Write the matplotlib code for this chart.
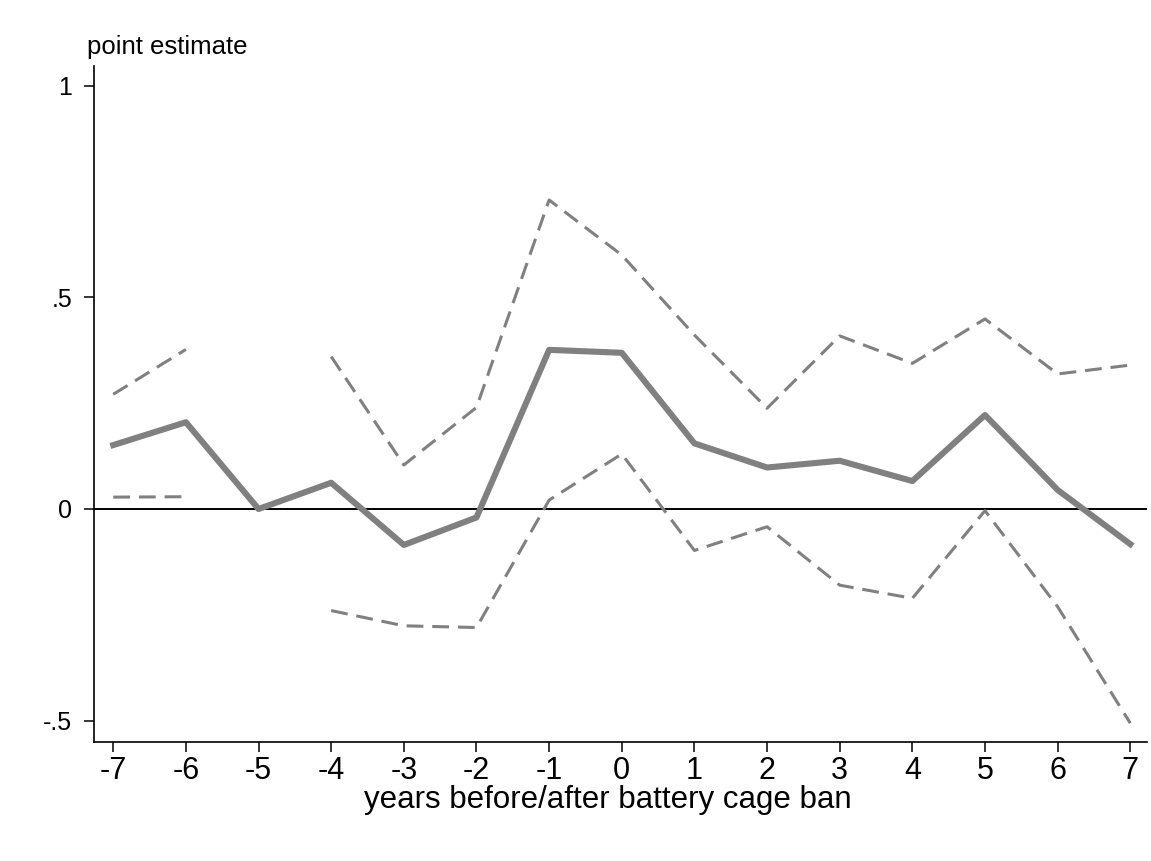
import numpy as np
import matplotlib
matplotlib.use("Agg")
import matplotlib.pyplot as plt

plt.rcParams['font.family'] = ['Liberation Sans', 'DejaVu Sans']

# event-study estimates, years relative to the battery cage ban
years = [-7, -6, -5, -4, -3, -2, -1, 0, 1, 2, 3, 4, 5, 6, 7]
estimate = [0.151, 0.205, 0.0, 0.062, -0.085, -0.020, 0.376, 0.369,
            0.155, 0.098, 0.114, 0.066, 0.222, 0.045, -0.083]
# confidence bounds; the reference year (-5) has none
upper = [0.271, 0.377, np.nan, 0.360, 0.104, 0.240, 0.730, 0.600,
         0.411, 0.238, 0.409, 0.344, 0.449, 0.319, 0.340]
lower = [0.028, 0.029, np.nan, -0.240, -0.276, -0.280, 0.021, 0.130,
         -0.098, -0.042, -0.180, -0.211, -0.004, -0.231, -0.506]

ytick_vals = [-0.5, 0, 0.5, 1]
ytick_text = ['-.5', '0', '.5', '1']

grey = '#808080'

fig = plt.figure(figsize=(11.51, 8.61), dpi=100)
ax = fig.add_axes([94 / 1151, 1 - 742.3 / 861, (1147 - 94) / 1151, (742.3 - 66) / 861])

ax.axhline(0, color='black', lw=1.4, zorder=1)
ax.plot(years, upper, color=grey, lw=2.2, dashes=(5.5, 2.9), zorder=2)
ax.plot(years, lower, color=grey, lw=2.2, dashes=(5.5, 2.9), zorder=2)
ax.plot(years, estimate, color=grey, lw=4.4, zorder=3)

ax.set_xlim(-7.265, 7.23)
ax.set_ylim(-0.5512, 1.0466)
ax.set_xticks(years)
ax.set_xticklabels([str(y) for y in years], fontsize=22)
ax.set_yticks(ytick_vals)
ax.set_yticklabels(ytick_text, fontsize=18)

for side in ['top', 'right']:
    ax.spines[side].set_visible(False)
for side in ['left', 'bottom']:
    ax.spines[side].set_linewidth(1.2)
ax.tick_params(axis='both', length=7.5, width=1.1, direction='out')
ax.tick_params(axis='y', pad=8)
ax.tick_params(axis='x', pad=2.5)

fig.text(608 / 1151, 1 - 800 / 861, 'years before/after battery cage ban',
         fontsize=22.5, ha='center', va='center')
fig.text(87 / 1151, 1 - 47 / 861, 'point estimate', fontsize=18.5, ha='left', va='center')

fig.savefig('out.png', dpi=100, facecolor='white')
